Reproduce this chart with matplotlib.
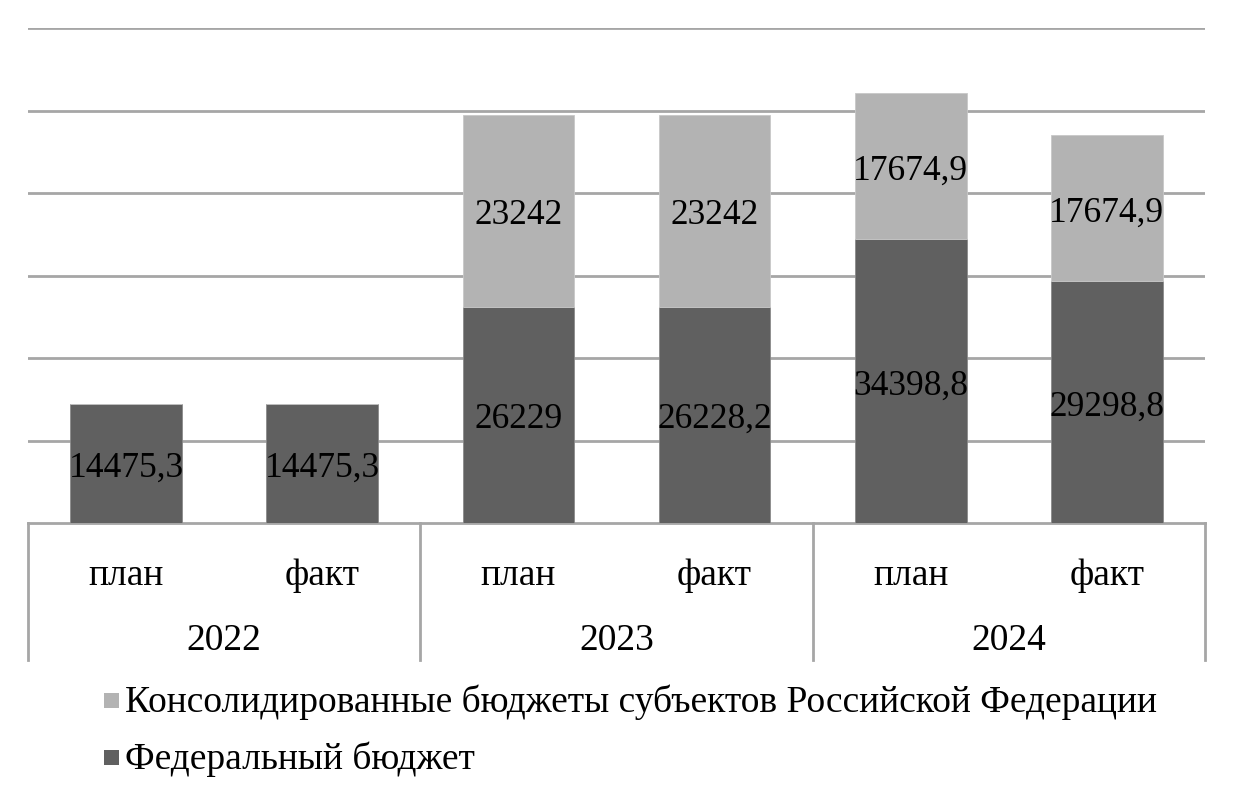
import matplotlib
matplotlib.use("Agg")
import matplotlib.pyplot as plt
from matplotlib.patches import Rectangle
import matplotlib.transforms as mtransforms

plt.rcParams['font.family'] = ['Liberation Serif', 'DejaVu Serif']

years = ["2022", "2023", "2024"]
kinds = ["план", "факт"]
federal = [14475.3, 14475.3, 26229, 26228.2, 34398.8, 29298.8]
regional = [0, 0, 23242, 23242, 17674.9, 17674.9]
federal_labels = ["14475,3", "14475,3", "26229", "26228,2", "34398,8", "29298,8"]
regional_labels = ["", "", "23242", "23242", "17674,9", "17674,9"]
series_names = ["Консолидированные бюджеты субъектов Российской Федерации", "Федеральный бюджет"]

c_dark = "#606060"
c_light = "#b3b3b3"
c_grid = "#a6a6a6"

fig = plt.figure(figsize=(12.34, 7.98), dpi=100)
W, H = 1234, 798
ax = fig.add_axes([28 / W, 1 - 523 / H, (1205 - 28) / W, (523 - 28) / H])

x = list(range(len(federal)))
bw = 0.57
ax.bar(x, federal, width=bw, color=c_dark, edgecolor="#8a8a8a", linewidth=0.6, zorder=3)
ax.bar(x, regional, width=bw, bottom=federal, color=c_light, edgecolor="#c8c8c8", linewidth=0.6, zorder=3)

fs_val = 25.5
fs_ax = 27
dy = -3.5  # points, small downward nudge of the label text
for i in x:
    ax.annotate(federal_labels[i], (i, federal[i] / 2), xytext=(0, dy), textcoords="offset points",
                ha="center", va="center", fontsize=fs_val, color="black", zorder=4)
    if regional[i] > 0:
        ax.annotate(regional_labels[i], (i, federal[i] + regional[i] / 2), xytext=(0, dy),
                    textcoords="offset points", ha="center", va="center", fontsize=fs_val,
                    color="black", zorder=4)

ax.set_xlim(-0.5, len(federal) - 0.5)
ax.set_ylim(0, 60000)
ax.set_yticks([10000, 20000, 30000, 40000, 50000, 60000])
ax.yaxis.grid(True, color=c_grid, linewidth=2.0)
ax.set_axisbelow(True)
ax.tick_params(left=False, labelleft=False, bottom=False, labelbottom=False)
for s in ["top", "right", "left"]:
    ax.spines[s].set_visible(False)
ax.spines["bottom"].set_color(c_grid)
ax.spines["bottom"].set_linewidth(2.0)

# category axis: separators and labels
trans = mtransforms.blended_transform_factory(ax.transData, ax.transAxes)
ax_h = 523 - 28
y_sep_bottom = -(660 - 523) / ax_h
for xs in [-0.5, 1.5, 3.5, 5.5]:
    ax.plot([xs, xs], [0, y_sep_bottom], transform=trans, color=c_grid, linewidth=2.0, clip_on=False)

y_kind = -(576 - 523) / ax_h
y_year = -(641 - 523) / ax_h
for i in x:
    ax.text(i, y_kind, kinds[i % 2], transform=trans, ha="center", va="center", fontsize=fs_ax)
for j, yr in enumerate(years):
    ax.text(2 * j + 0.5, y_year, yr, transform=trans, ha="center", va="center", fontsize=fs_ax)

# legend (drawn manually in figure pixel coordinates)
leg_colors = [c_light, c_dark]
leg_y = [700, 757]
for col, yy, name in zip(leg_colors, leg_y, series_names):
    fig.patches.append(Rectangle((104 / W, 1 - (yy + 8) / H), 15 / W, 15 / H,
                                 transform=fig.transFigure, facecolor=col, edgecolor="none"))
    fig.text(125 / W, 1 - (yy + 2) / H, name, ha="left", va="center", fontsize=fs_ax)

fig.savefig("out.png", dpi=100)
